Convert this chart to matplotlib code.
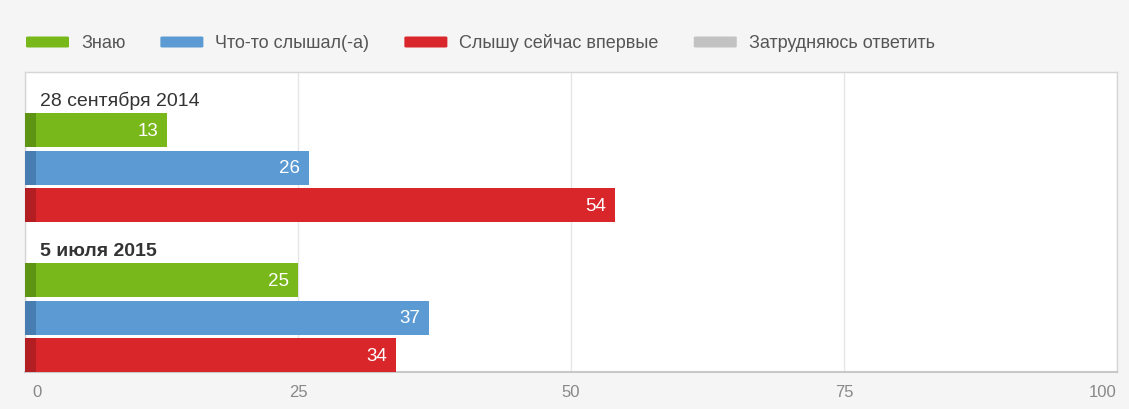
import matplotlib.pyplot as plt
from matplotlib.patches import FancyBboxPatch
from matplotlib.transforms import ScaledTranslation

plt.rcParams['font.family'] = ['Liberation Sans', 'DejaVu Sans']

# --- data ---
dates = ["28 сентября 2014", "5 июля 2015"]
categories = ["Знаю", "Что-то слышал(-а)", "Слышу сейчас впервые", "Затрудняюсь ответить"]
know = [13, 25]
heard = [26, 37]
first_time = [54, 34]
x_ticks = [0, 25, 50, 75, 100]

colors = ["#78b81a", "#5b9ad3", "#d9262b", "#c2c2c2"]
dark_colors = ["#5e9414", "#477db0", "#b31e22"]
bg = "#f5f5f5"
DPI = 100


def px(fig, dx, dy=0):
    return ScaledTranslation(dx / DPI, dy / DPI, fig.dpi_scale_trans)


def draw_legend(fig):
    renderer = fig.canvas.get_renderer()
    W, H = fig.get_size_inches() * fig.dpi
    x = 26
    y = 43
    for name, col in zip(categories, colors):
        patch = FancyBboxPatch(
            (x / W, (H - y - 5.5) / H), 43 / W, 11 / H,
            boxstyle="round,pad=0,rounding_size=0.002",
            transform=fig.transFigure, facecolor=col, edgecolor="none",
        )
        fig.patches.append(patch)
        t = fig.text((x + 55) / W, (H - y) / H, name, fontsize=13,
                     color="#555555", va="center", ha="left")
        bb = t.get_window_extent(renderer)
        x = bb.x1 + 35


def plot_groups(ax):
    fig = ax.figure
    series = [know, heard, first_time]
    slot = 0
    for gi, date in enumerate(dates):
        ax.text(0, slot + 0.93, date, fontsize=14,
                fontweight="bold" if gi == 1 else "normal",
                color="#333333", va="bottom", ha="left",
                transform=ax.transData + px(fig, 15))
        slot += 1
        for si, vals in enumerate(series):
            v = vals[gi]
            ax.barh(slot + 0.5, v, height=0.907, color=colors[si], zorder=3)
            ax.barh(slot + 0.5, min(1.0, v), height=0.907, color=dark_colors[si], zorder=4)
            ax.text(v, slot + 0.5, str(v), color="white", fontsize=13.5,
                    va="center", ha="right", zorder=5,
                    transform=ax.transData + px(fig, -9))
            slot += 1


fig = plt.figure(figsize=(11.29, 4.10), dpi=DPI, facecolor=bg)
ax = fig.add_axes([25 / 1129, 37 / 410, 1092 / 1129, 300 / 410])
ax.set_facecolor("white")

plot_groups(ax)

ax.set_xlim(0, 100)
ax.set_ylim(7.953, -0.047)
ax.set_yticks([])
ax.set_xticks(x_ticks)
ax.set_xticklabels([str(t) for t in x_ticks], fontsize=12, color="#888888")
ax.tick_params(axis="x", length=0, pad=9)
labels = ax.get_xticklabels()
labels[0].set_ha("left")
labels[0].set_transform(labels[0].get_transform() + px(fig, 7))
labels[-1].set_ha("right")
ax.grid(axis="x", color="#e6e6e6", linewidth=1, zorder=0)
for side, sp in ax.spines.items():
    sp.set_color("#d6d6d6")
    sp.set_linewidth(1)
ax.spines["bottom"].set_color("#c8c8c8")
ax.spines["bottom"].set_linewidth(1.5)

draw_legend(fig)

fig.savefig("out.png", dpi=DPI, facecolor=bg)
